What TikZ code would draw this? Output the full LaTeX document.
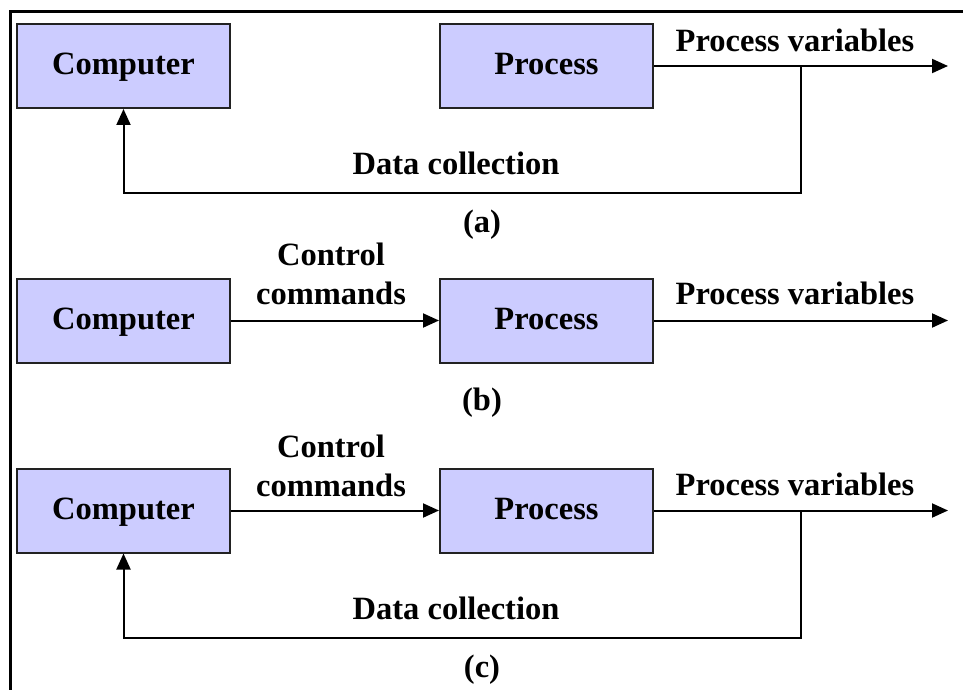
\documentclass[tikz,border=0pt]{standalone}
\usepackage{fontspec}
\setmainfont{Liberation Serif}
\usetikzlibrary{arrows.meta}
\definecolor{boxfill}{HTML}{CCCCFF}
\definecolor{boxline}{HTML}{222222}
\begin{document}
\begin{tikzpicture}[x=1pt,y=-1pt,
  blk/.style={draw=boxline, line width=2pt, fill=boxfill, minimum width=213pt, minimum height=84pt, inner sep=0pt,
    font=\fontsize{32.5}{39}\selectfont\bfseries, text height=24.4pt, text depth=6.5pt},
  lbl/.style={font=\fontsize{32.5}{39}\selectfont\bfseries, inner sep=0pt, align=center},
  conn/.style={line width=2pt, -{Triangle[length=16pt,width=14pt]}},
  wire/.style={line width=2pt}]
\useasboundingbox (0,0) rectangle (963,690);
\fill[white] (0,0) rectangle (963,690);
% frame
\draw[line width=3.6pt] (10.5,690) -- (10.5,11.7) -- (963,11.7);

% (a)
\node[blk] (ca) at (123.5,66) {Computer};
\node[blk] (pa) at (546.5,66) {Process};
\coordinate (ea) at (948,66);
\coordinate (ja) at (801,66);
\coordinate (fa) at (801,193);
\draw[conn] (pa.east) -- (ea);
\draw[conn] (ja) -- (fa) -| (ca.south);
\node[lbl] (pva) at (795,40) {Process variables};
\node[lbl] (dca) at (456,163) {Data collection};
\node[lbl] (la) at (482,225) {(a)};

% (b)
\node[blk] (cb) at (123.5,320.5) {Computer};
\node[blk] (pb) at (546.5,320.5) {Process};
\coordinate (eb) at (948,320.5);
\draw[conn] (cb.east) -- (pb.west);
\draw[conn] (pb.east) -- (eb);
\node[lbl] (cmb) at (331,274) {Control\\commands};
\node[lbl] (pvb) at (795,293) {Process variables};
\node[lbl] (lb) at (482,403) {(b)};

% (c)
\node[blk] (cc) at (123.5,510.5) {Computer};
\node[blk] (pc) at (546.5,510.5) {Process};
\coordinate (ec) at (948,510.5);
\coordinate (jc) at (801,510.5);
\coordinate (fc) at (801,638);
\draw[conn] (cc.east) -- (pc.west);
\draw[conn] (pc.east) -- (ec);
\draw[conn] (jc) -- (fc) -| (cc.south);
\node[lbl] (cmc) at (331,466) {Control\\commands};
\node[lbl] (pvc) at (795,484) {Process variables};
\node[lbl] (dcc) at (456,608) {Data collection};
\node[lbl] (lc) at (482,670) {(c)};
\end{tikzpicture}
\end{document}
